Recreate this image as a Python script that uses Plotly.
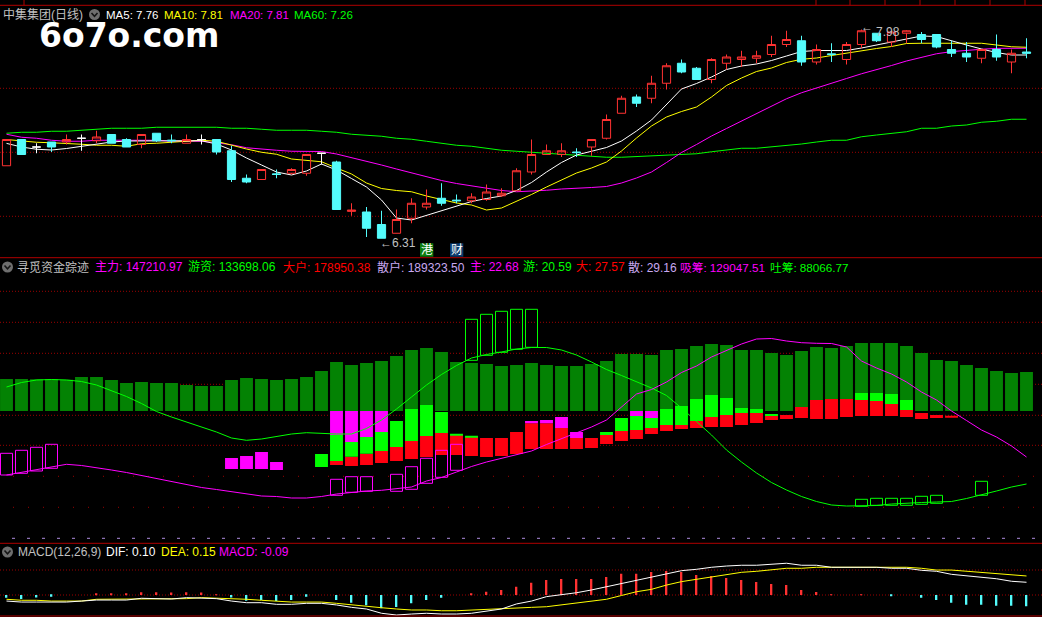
import plotly.graph_objects as go

W, H = 1042, 617

# ---------------- price panel data (中集集团 日线) ----------------
open_ = [6.89, 7.10, 7.04, 7.08, 7.08, 7.11, 7.09, 7.14, 7.10, 7.06,
         7.15, 7.095, 7.07, 7.10, 7.10, 7.01, 6.79, 6.78, 6.825, 6.83,
         6.83, 6.99, 6.92, 6.525, 6.52, 6.42, 6.35, 6.47, 6.56, 6.63,
         6.615, 6.61, 6.62, 6.65, 6.69, 6.84, 6.98, 6.98, 7.00, 7.04,
         7.11, 7.31, 7.44, 7.43, 7.55, 7.71, 7.67, 7.58, 7.71, 7.74,
         7.75, 7.78, 7.86, 7.89, 7.72, 7.785, 7.74, 7.86, 7.95, 7.88,
         7.95, 7.94, 7.94, 7.82, 7.79, 7.75, 7.82, 7.72, 7.80]
high = [7.10, 7.10, 7.07, 7.08, 7.14, 7.14, 7.17, 7.14, 7.11, 7.14,
        7.15, 7.14, 7.14, 7.14, 7.10, 7.05, 6.82, 6.86, 6.86, 6.87,
        6.98, 6.99, 6.93, 6.59, 6.56, 6.53, 6.54, 6.63, 6.70, 6.75,
        6.66, 6.67, 6.74, 6.71, 6.87, 7.10, 7.06, 7.07, 7.03, 7.10,
        7.30, 7.45, 7.46, 7.61, 7.71, 7.74, 7.68, 7.75, 7.78, 7.81,
        7.81, 7.93, 7.97, 7.93, 7.86, 7.87, 7.88, 7.98, 7.95, 7.96,
        7.975, 7.96, 7.94, 7.89, 7.88, 7.82, 7.94, 7.82, 7.91]
low = [6.89, 6.98, 6.99, 7.00, 7.06, 7.01, 7.07, 7.07, 7.04, 7.03,
       7.08, 7.07, 7.07, 7.06, 6.98, 6.76, 6.75, 6.78, 6.79, 6.82,
       6.81, 6.90, 6.54, 6.49, 6.32, 6.31, 6.35, 6.43, 6.54, 6.57,
       6.59, 6.59, 6.61, 6.64, 6.69, 6.82, 6.98, 6.96, 6.96, 6.97,
       7.10, 7.31, 7.36, 7.39, 7.50, 7.63, 7.58, 7.55, 7.66, 7.68,
       7.71, 7.76, 7.84, 7.69, 7.70, 7.72, 7.70, 7.83, 7.88, 7.84,
       7.87, 7.87, 7.83, 7.76, 7.72, 7.71, 7.73, 7.63, 7.75]
close = [7.10, 6.98, 7.04, 7.04, 7.10, 7.11, 7.12, 7.07, 7.04, 7.14,
         7.09, 7.09, 7.10, 7.10, 7.00, 6.78, 6.76, 6.86, 6.82, 6.86,
         6.98, 6.99, 6.54, 6.535, 6.39, 6.31, 6.46, 6.59, 6.59, 6.59,
         6.61, 6.64, 6.68, 6.67, 6.85, 6.98, 7.01, 7.01, 6.995, 7.10,
         7.26, 7.43, 7.39, 7.55, 7.69, 7.64, 7.58, 7.74, 7.76, 7.76,
         7.77, 7.86, 7.90, 7.72, 7.82, 7.78, 7.86, 7.97, 7.89, 7.96,
         7.97, 7.90, 7.84, 7.79, 7.76, 7.82, 7.76, 7.79, 7.79]

ma5 = [7.069, 7.040, 7.022, 7.016, 7.028, 7.044, 7.060, 7.080, 7.088, 7.090,
       7.090, 7.090, 7.090, 7.090, 7.064, 7.016, 6.952, 6.896, 6.840, 6.816,
       6.848, 6.904, 6.856, 6.788, 6.720, 6.616, 6.472, 6.456, 6.492, 6.528,
       6.568, 6.604, 6.628, 6.648, 6.692, 6.756, 6.840, 6.916, 6.976, 7.008,
       7.036, 7.088, 7.168, 7.256, 7.384, 7.504, 7.548, 7.600, 7.660, 7.688,
       7.704, 7.732, 7.768, 7.804, 7.812, 7.812, 7.812, 7.832, 7.856, 7.884,
       7.908, 7.928, 7.924, 7.888, 7.856, 7.824, 7.796, 7.776, 7.776]
ma10 = [7.100, 7.086, 7.078, 7.074, 7.070, 7.062, 7.054, 7.054, 7.046, 7.066,
        7.070, 7.078, 7.080, 7.094, 7.086, 7.054, 7.024, 6.998, 6.982, 6.944,
        6.936, 6.922, 6.872, 6.824, 6.752, 6.708, 6.692, 6.682, 6.648, 6.620,
        6.592, 6.576, 6.536, 6.552, 6.604, 6.660, 6.720, 6.776, 6.832, 6.872,
        6.920, 7.008, 7.112, 7.208, 7.280, 7.324, 7.360, 7.440, 7.532, 7.592,
        7.644, 7.672, 7.716, 7.742, 7.752, 7.772, 7.792, 7.812, 7.828, 7.844,
        7.868, 7.870, 7.870, 7.870, 7.870, 7.870, 7.856, 7.842, 7.838]
ma20 = [7.142, 7.118, 7.110, 7.094, 7.086, 7.086, 7.094, 7.094, 7.094, 7.094,
        7.094, 7.086, 7.086, 7.086, 7.074, 7.058, 7.034, 7.022, 7.014, 7.006,
        7.006, 7.004, 6.984, 6.956, 6.924, 6.896, 6.864, 6.832, 6.800, 6.772,
        6.748, 6.728, 6.708, 6.692, 6.682, 6.686, 6.694, 6.704, 6.708, 6.716,
        6.724, 6.752, 6.792, 6.840, 6.916, 6.996, 7.060, 7.128, 7.188, 7.248,
        7.308, 7.368, 7.426, 7.474, 7.514, 7.552, 7.588, 7.626, 7.656, 7.692,
        7.728, 7.756, 7.786, 7.803, 7.814, 7.822, 7.829, 7.830, 7.830]
ma60 = [7.150, 7.158, 7.158, 7.166, 7.166, 7.174, 7.182, 7.190, 7.190, 7.190,
        7.198, 7.198, 7.198, 7.198, 7.198, 7.190, 7.190, 7.182, 7.174, 7.174,
        7.174, 7.166, 7.158, 7.142, 7.134, 7.126, 7.110, 7.102, 7.086, 7.070,
        7.054, 7.046, 7.030, 7.014, 7.006, 6.998, 6.990, 6.982, 6.974, 6.964,
        6.958, 6.958, 6.964, 6.968, 6.976, 6.986, 6.986, 7.002, 7.016, 7.030,
        7.030, 7.040, 7.050, 7.064, 7.080, 7.094, 7.094, 7.122, 7.136, 7.150,
        7.162, 7.190, 7.190, 7.208, 7.216, 7.238, 7.246, 7.262, 7.262]

# ---------------- 寻觅资金踪迹 panel data ----------------
fund_bar = [32, 32, 31.7, 32, 31.3, 34, 34, 31, 28, 29,
            28, 28, 26, 25, 25, 31, 33, 32, 31, 32,
            34, 40, 49, 46, 48, 50, 55, 61, 63, 59,
            49, 48, 47, 45, 46, 48, 46, 45, 45, 47,
            50, 57, 57, 56, 61, 62, 65, 67, 66, 61,
            61, 58, 56, 60, 64, 63, 65, 68, 68, 68,
            65, 58, 51, 50, 46, 43, 40, 38, 39]
green_line = [24, 28.5, 31, 31.5, 31, 29.5, 26, 20.5, 14.5, 7.5,
              -0.5, -6, -11, -16, -21, -27, -29.3, -28, -25.5, -23,
              -21.7, -22.7, -23, -23, -17.5, -9, 2, 14, 26, 36.5,
              45.5, 53, 56.5, 59, 62, 63.5, 63.5, 61, 56, 49,
              41.5, 35.5, 29, 23, 15.5, 3, -10.5, -24, -39, -51,
              -62, -71.5, -79, -85.5, -90.5, -94, -95, -95, -94.5, -93,
              -92, -91.5, -91, -90.5, -87.5, -84, -80, -76, -73]
pink_line = [-64, -61.5, -59, -56, -53.3, -54.5, -56.5, -59, -61.5, -64.5,
             -67.5, -71, -74, -76.5, -78.5, -80.5, -82.5, -85, -85.5, -87,
             -87, -85.5, -83, -81.5, -80, -79.3, -78, -76, -70, -66.5,
             -61, -55.5, -51, -47.5, -44, -40, -33.5, -27.5, -22, -16,
             -9, 4, 17, 21.5, 29, 38.5, 45, 54, 60.5, 67,
             72, 72.5, 70, 68.3, 67.7, 67.5, 64, 50, 43, 37,
             29, 19, 11, 0, -9.5, -19, -26, -35, -46]

mag_idx = [15, 16, 17, 18, 22, 23, 24, 25, 35, 36, 37, 38, 42, 43]
mag_hi = [-47, -45, -41, -51, 0, 0, 0, 0, -10, -9, -6, -21, 0, 0]
mag_lo = [-58, -58, -58, -59, -24, -31, -26, -21, -12.3, -12.3, -17, -27, -5, -7]

grn_idx = [21, 22, 23, 24, 25, 26, 27, 28, 29, 30, 31,
           40, 41, 42, 43, 44, 45, 46, 47, 48, 49, 50, 51, 57, 58, 59, 60]
grn_hi = [-43, -24, -31, -26, -21, -10, 2, 6, -1, -23, -25,
          -21, -7, -5, -7, 2, 5, 12, 16, 13, 3, 2, -3, 18, 18, 17, 11]
grn_lo = [-56, -50, -45.7, -42.7, -40, -36, -30, -25, -22, -24, -26,
          -24, -20, -19, -17, -14, -14, -10, -6, -4, -2, -2, -5, 11, 10, 7, 1]

red_idx = list(range(22, 64))
red_hi = [-50, -45.7, -42.7, -40, -36, -30, -25, -22, -24, -26, -27, -27, -21, -12.3, -12.3,
          -17, -27, -27, -24, -20, -19, -17, -14, -14, -10, -6, -4, -2, -2, -5, -4,
          4, 11, 12, 12, 11, 10, 7, 1, -2, -4, -5]
red_lo = [-54, -55, -54, -52, -50, -48, -46, -44, -44, -45, -46, -45, -43, -38, -38,
          -38, -38, -37, -33, -30, -28, -23, -20, -18, -17, -16, -16, -14, -12, -9, -8,
          -7, -8, -8, -6, -5, -5, -5, -6, -8, -7, -6]

hmag_idx = [0, 1, 2, 3, 22, 23, 24, 26, 27, 28, 29, 30]
hmag_hi = [-42.3, -39.3, -36.3, -33.3, -68.3, -65.7, -65.7, -63.3, -55.7, -47.3, -39.3, -33.3]
hmag_lo = [-64, -62.3, -60, -57.3, -84.3, -81.3, -80.3, -80.3, -78.3, -72.3, -66.3, -59.3]

hgrn_idx = [31, 32, 33, 34, 35, 57, 58, 59, 60, 61, 62, 65]
hgrn_hi = [91.7, 96.7, 99.7, 101.7, 101.7, -88.3, -87.3, -87.3, -87.3, -85.3, -84.3, -70.3]
hgrn_lo = [50.7, 55.7, 58.7, 61.7, 63.7, -95.3, -94.3, -94.3, -94.3, -93.3, -92.3, -84.3]

# ---------------- MACD(12,26,9) data ----------------
dif = [-0.048, -0.056, -0.056, -0.056, -0.056, -0.048, -0.040, -0.040, -0.040, -0.026,
       -0.032, -0.032, -0.021, -0.024, -0.029, -0.048, -0.061, -0.061, -0.074, -0.074,
       -0.066, -0.066, -0.079, -0.098, -0.111, -0.145, -0.159, -0.151, -0.145, -0.151,
       -0.151, -0.145, -0.125, -0.111, -0.071, -0.048, -0.013, 0.000, 0.018, 0.040,
       0.066, 0.093, 0.119, 0.145, 0.172, 0.193, 0.204, 0.220, 0.230, 0.236,
       0.236, 0.244, 0.252, 0.236, 0.236, 0.220, 0.220, 0.220, 0.220, 0.212,
       0.212, 0.196, 0.188, 0.164, 0.151, 0.140, 0.129, 0.109, 0.101]
dea = [-0.034, -0.042, -0.042, -0.048, -0.048, -0.048, -0.034, -0.034, -0.034, -0.032,
       -0.029, -0.029, -0.029, -0.021, -0.024, -0.029, -0.034, -0.042, -0.048, -0.056,
       -0.056, -0.056, -0.066, -0.079, -0.090, -0.101, -0.111, -0.119, -0.119, -0.125,
       -0.125, -0.119, -0.111, -0.106, -0.100, -0.098, -0.093, -0.079, -0.066, -0.053,
       -0.034, -0.004, 0.026, 0.045, 0.079, 0.106, 0.125, 0.145, 0.164, 0.180,
       0.188, 0.198, 0.212, 0.212, 0.220, 0.220, 0.220, 0.220, 0.220, 0.220,
       0.220, 0.212, 0.198, 0.198, 0.188, 0.180, 0.167, 0.159, 0.151]
macd = [-0.021, -0.032, -0.019, -0.013, 0, 0, 0.013, 0.008, 0.013, 0.021,
        0.021, 0.019, 0.021, 0.019, 0.003, -0.019, -0.045, -0.040, -0.048, -0.040,
        -0.013, 0, -0.040, -0.061, -0.082, -0.106, -0.095, -0.066, -0.040, -0.021,
        0, 0.013, 0.026, 0.040, 0.066, 0.098, 0.119, 0.127, 0.127, 0.127,
        0.143, 0.169, 0.169, 0.183, 0.190, 0.183, 0.159, 0.151, 0.135, 0.119,
        0.103, 0.087, 0.079, 0.040, 0.024, 0.005, 0, 0.005, 0, -0.005,
        0, -0.021, -0.040, -0.061, -0.077, -0.077, -0.085, -0.085, -0.09]

# ---------------- helpers ----------------
n = len(close)
xs = list(range(n))
FONT = "Liberation Sans, Arial, Noto Sans CJK SC, sans-serif"
RED_UP, CYAN_DN = "#ff3232", "#54fcfc"


def fx(x):
    return x / W


def fy(y):
    return 1 - y / H


# pixel calibration of each panel (value = a - b * y_px)
def price_at(y):
    return 8.216 - 0.008 * y


def fund_at(y):
    return 411 - y


def macd_at(y):
    return (595 - y) / 126.0


TOP = (5.3, 257.7)
MID = (257.7, 543.3)
BOT = (543.3, 616.0)

fig = go.Figure()

# MA lines (below candles)
for vals, col in [(ma60, "#00ff00"), (ma20, "#ff00ff"), (ma10, "#ffff00"), (ma5, "#ffffff")]:
    fig.add_trace(go.Scatter(x=xs, y=vals, mode="lines", line=dict(color=col, width=1),
                             xaxis="x", yaxis="y", hoverinfo="skip"))

doji = [i for i in xs if open_[i] == close[i]]
main_o = [None if i in doji else open_[i] for i in xs]
main_h = [None if i in doji else high[i] for i in xs]
main_l = [None if i in doji else low[i] for i in xs]
main_c = [None if i in doji else close[i] for i in xs]
fig.add_trace(go.Candlestick(
    x=xs, open=main_o, high=main_h, low=main_l, close=main_c, xaxis="x", yaxis="y4",
    increasing=dict(line=dict(color=RED_UP, width=1), fillcolor="rgba(0,0,0,0)"),
    decreasing=dict(line=dict(color=CYAN_DN, width=1), fillcolor=CYAN_DN),
    hoverinfo="skip"))
fig.add_trace(go.Candlestick(
    x=doji, open=[open_[i] for i in doji], high=[high[i] for i in doji],
    low=[low[i] for i in doji], close=[close[i] for i in doji], xaxis="x", yaxis="y4",
    increasing=dict(line=dict(color="#ffffff", width=1), fillcolor="#ffffff"),
    decreasing=dict(line=dict(color="#ffffff", width=1), fillcolor="#ffffff"),
    hoverinfo="skip"))

# middle panel
fig.add_trace(go.Bar(x=xs, y=fund_bar, base=0, width=0.86, marker=dict(color="#038203", line=dict(width=0)),
                     xaxis="x", yaxis="y2", hoverinfo="skip"))


def seg_bar(idx, hi, lo, color, hollow=False, width=0.86):
    if hollow:
        mk = dict(color="rgba(0,0,0,0)", line=dict(color=color, width=1))
    else:
        mk = dict(color=color, line=dict(width=0))
    return go.Bar(x=idx, y=[h - l for h, l in zip(hi, lo)], base=lo, width=width, marker=mk,
                  xaxis="x", yaxis="y2", hoverinfo="skip")


fig.add_trace(seg_bar(red_idx, red_hi, red_lo, "#ff0010"))
fig.add_trace(seg_bar(grn_idx, grn_hi, grn_lo, "#00ff00"))
fig.add_trace(seg_bar(mag_idx, mag_hi, mag_lo, "#ff00ff"))
fig.add_trace(seg_bar(hmag_idx, hmag_hi, hmag_lo, "#ff00ff", hollow=True, width=0.8))
fig.add_trace(seg_bar(hgrn_idx, hgrn_hi, hgrn_lo, "#00ff00", hollow=True, width=0.8))
fig.add_trace(go.Scatter(x=xs, y=green_line, mode="lines", line=dict(color="#00ff00", width=1),
                         xaxis="x", yaxis="y2", hoverinfo="skip"))
fig.add_trace(go.Scatter(x=xs, y=pink_line, mode="lines", line=dict(color="#ff00ff", width=1),
                         xaxis="x", yaxis="y2", hoverinfo="skip"))

# MACD panel
fig.add_trace(go.Bar(x=xs, y=macd, base=0, width=0.11,
                     marker=dict(color=[RED_UP if v >= 0 else CYAN_DN for v in macd], line=dict(width=0)),
                     xaxis="x", yaxis="y3", hoverinfo="skip"))
fig.add_trace(go.Scatter(x=xs, y=dea, mode="lines", line=dict(color="#ffff00", width=1),
                         xaxis="x", yaxis="y3", hoverinfo="skip"))
fig.add_trace(go.Scatter(x=xs, y=dif, mode="lines", line=dict(color="#ffffff", width=1),
                         xaxis="x", yaxis="y3", hoverinfo="skip"))

# ---------------- shapes ----------------
shapes = []


def hline(y, color, dash=None, x0=0, layer="below", width=1):
    d = dict(type="line", xref="paper", yref="paper", x0=fx(x0), x1=1, y0=fy(y), y1=fy(y),
             line=dict(color=color, width=width), layer=layer)
    if dash:
        d["line"]["dash"] = dash
    shapes.append(d)


GRID = "#9c0000"
for y in (88.3, 152.3, 216.3, 291.3, 322.3, 353.3, 384.3, 415.3, 445.3, 570, 595):
    hline(y, GRID, dash="1px,2px")
for y in (476.3, 507.3):
    hline(y, GRID, dash="1px,14px", x0=13)
hline(538.3, "#b08ce0", dash="3px,12px", x0=12)
for y in (5.3, 257.7, 543.3, 616.0):
    hline(y, "#b00000", layer="above")
for x in (24, 816, 850, 885, 920, 955, 990, 1025):
    shapes.append(dict(type="line", xref="paper", yref="paper", x0=fx(x), x1=fx(x), y0=fy(0), y1=fy(5.3),
                       line=dict(color="#b00000", width=1)))


def icon(cx, cy):
    shapes.append(dict(type="circle", xref="paper", yref="paper", x0=fx(cx - 5.5), x1=fx(cx + 5.5),
                       y0=fy(cy + 5.5), y1=fy(cy - 5.5), fillcolor="#6e6e6e", line=dict(width=0)))
    shapes.append(dict(type="path", xref="paper", yref="paper",
                       path=f"M {fx(cx - 3)},{fy(cy - 1.5)} L {fx(cx)},{fy(cy + 1.8)} L {fx(cx + 3)},{fy(cy - 1.5)}",
                       line=dict(color="#151515", width=1.6)))


icon(94.5, 14.5)
icon(7.5, 267)
icon(7.5, 552)

# 港 / 财 boxes
for x0, col in ((420, "#0d7d10"), (450, "#0c3c6e")):
    shapes.append(dict(type="rect", xref="paper", yref="paper", x0=fx(x0), x1=fx(x0 + 13.3),
                       y0=fy(256.7), y1=fy(243.3), fillcolor=col, line=dict(width=0)))

# ---------------- text ----------------
anns = []


def label(x, y, text, color, size=12, family=FONT, anchor="left", **kw):
    d = dict(x=fx(x), y=fy(y), xref="paper", yref="paper", text=text, showarrow=False,
             xanchor=anchor, yanchor="middle", borderpad=0,
             font=dict(color=color, size=size, family=family))
    d.update(kw)
    anns.append(d)


GRAY = "#c0c0c0"
LAV = "#c8a8f0"
label(2, 14.5, "中集集团(日线)", GRAY)
label(104.5, 14.5, "MA5: 7.76", "#ffffff", size=11.5)
label(162.5, 14.5, "MA10: 7.81", "#ffff00", size=11.5)
label(228.5, 14.5, "MA20: 7.81", "#ff00ff", size=11.5)
label(292.5, 14.5, "MA60: 7.26", "#00ff00", size=11.5)
label(38, 35.5, "<b>6o7o.com</b>", "#ffffff", size=33, family="DejaVu Sans, sans-serif",
      height=27, valign="middle")

label(379, 242.5, "←6.31", GRAY)
label(860, 27.5, "←", GRAY)
label(875, 31.5, "7.98", GRAY)
label(426.7, 250, "港", "#ffffff", anchor="center")
label(456.7, 250, "财", "#ffffff", anchor="center")

label(16, 267, "寻觅资金踪迹", GRAY)
label(94, 267, "主力: 147210.97", "#ff00ff")
label(187, 267, "游资: 133698.06", "#00ff00")
label(282, 267, "大户: 178950.38", "#ff0000")
label(376, 267, "散户: 189323.50", LAV)
label(469, 267, "主: 22.68", "#ff00ff")
label(522, 267, "游: 20.59", "#00ff00")
label(575, 267, "大: 27.57", "#ff0000")
label(627, 267, "散: 29.16", LAV)
label(679, 267, "吸筹: 129047.51", "#ff00ff", size=11.7)
label(768.5, 267, "吐筹: 88066.77", "#00ff00", size=11.7)

label(17, 552, "MACD(12,26,9)", GRAY)
label(105, 552, "DIF: 0.10", "#ffffff")
label(160, 552, "DEA: 0.15", "#ffff00")
label(218, 552, "MACD: -0.09", "#ff00ff")

ax_common = dict(showgrid=False, zeroline=False, showticklabels=False, ticks="", showline=False,
                 fixedrange=True)
fig.update_layout(
    width=W, height=H, margin=dict(l=0, r=0, t=0, b=0),
    paper_bgcolor="#000000", plot_bgcolor="rgba(0,0,0,0)",
    showlegend=False, barmode="overlay", boxgap=0.22,
    xaxis=dict(domain=[0, 1], range=[-6.5 / 15, -6.5 / 15 + W / 15], rangeslider=dict(visible=False),
               **ax_common),
    yaxis=dict(domain=[fy(TOP[1]), fy(TOP[0])], range=[price_at(TOP[1]), price_at(TOP[0])], anchor="x",
               **ax_common),
    yaxis4=dict(domain=[fy(TOP[1]), fy(TOP[0])], range=[price_at(TOP[1]), price_at(TOP[0])], anchor="x",
                overlaying="y", **ax_common),
    yaxis2=dict(domain=[fy(MID[1]), fy(MID[0])], range=[fund_at(MID[1]), fund_at(MID[0])], anchor="x",
                **ax_common),
    yaxis3=dict(domain=[fy(BOT[1]), fy(BOT[0])], range=[macd_at(BOT[1]), macd_at(BOT[0])], anchor="x",
                **ax_common),
    shapes=shapes, annotations=anns,
)

fig.write_html("out.html", config={"displayModeBar": False},
               post_script="document.body.style.margin='0';document.body.style.background='#000';")
